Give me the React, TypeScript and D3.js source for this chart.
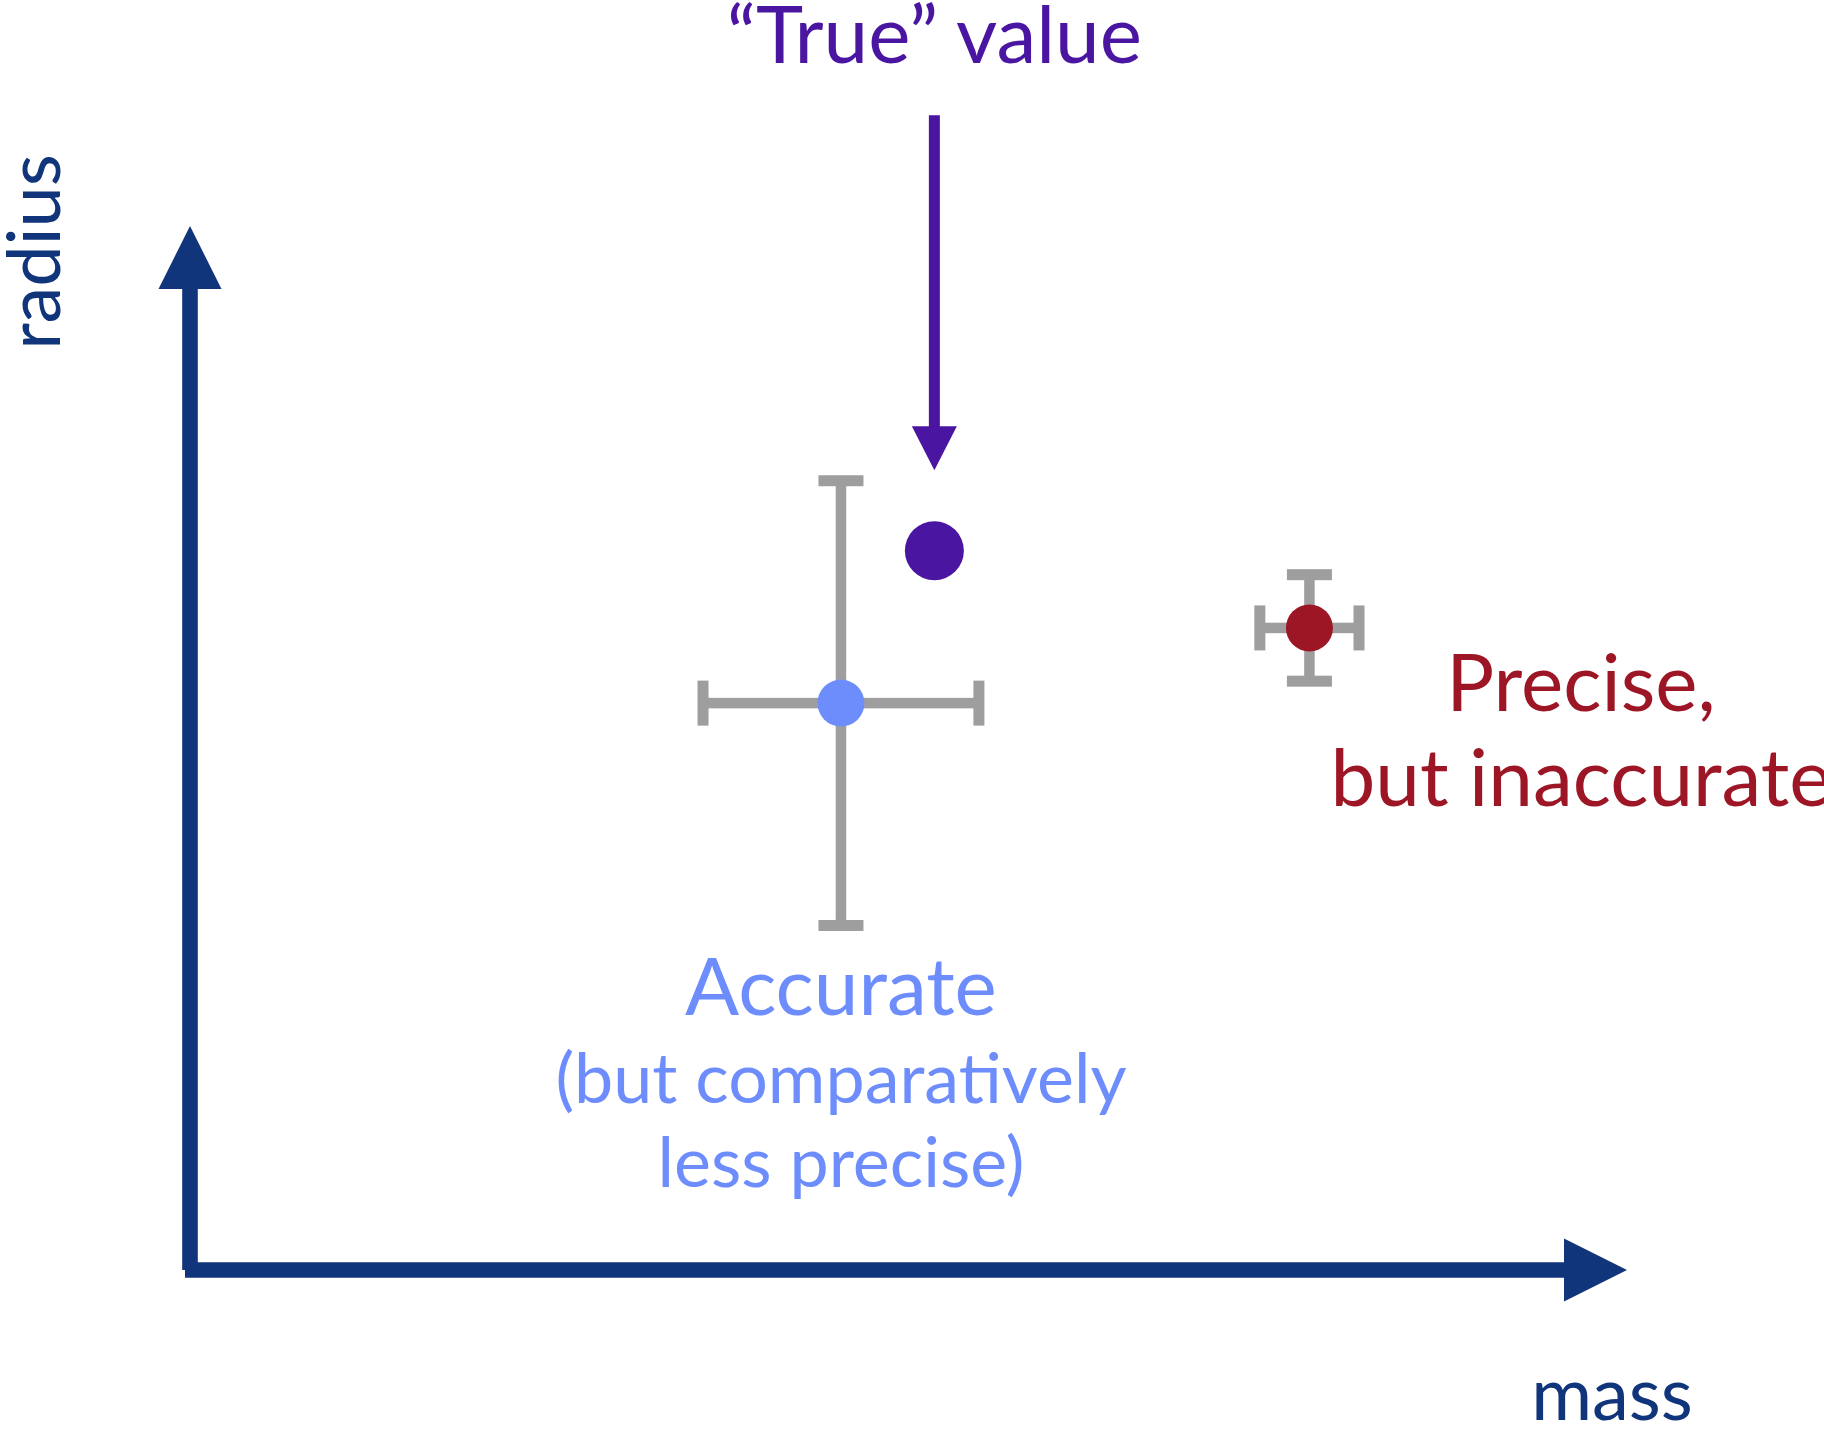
import React from "react";
import * as d3 from "d3";

// ---- data (arbitrary units on both axes) ----
const pointNames = ["true", "accurate", "precise"];
const pointX = [51.8, 45.3, 77.9];
const pointY = [68.9, 54.3, 61.5];
const pointXErr = [0, 9.6, 3.45];
const pointYErr = [0, 21.3, 5.1];
const pointColors = ["#4a15a1", "#6e8dfd", "#9d1626"];
const pointRadius = [29.5, 23.5, 23.5];

const arrowFromY = 110.6;
const arrowToY = 76.6;

const titleText = "“True” value";
const accurateLines = ["Accurate", "(but comparatively", "less precise)"];
const accurateSizes = [80, 70, 70];
const accurateBaselines = [1015, 1103, 1187];
const preciseLines = ["Precise,", "but inaccurate"];
const preciseBaselines = [711, 806];
const xLabel = "mass";
const yLabel = "radius";

const W = 1824;
const H = 1429;
const AXIS = "#10357a";
const GRAY = "#9e9e9e";
const FONT = "Lato, 'Open Sans', sans-serif";

export default function App() {
  const x = d3.scaleLinear().domain([0, 100]).range([190, 1627]);
  const y = d3.scaleLinear().domain([0, 100]).range([1270, 226]);

  const x0 = x(0);
  const y0 = y(0);
  const xEnd = x(100);
  const yEnd = y(100);
  const head = 63;
  const axisW = 15.6;

  const tx = x(pointX[0]);
  const arrowTop = y(arrowFromY);
  const arrowTip = y(arrowToY);
  const aHead = 44;
  const aHalf = 22.5;

  const cap = 45;
  const barW = 10.5;
  const capT = 11;

  return (
    <svg
      width={W}
      height={H}
      style={{ position: "absolute", left: 0, top: 0, background: "#fff" }}
    >
      {/* axes */}
      <line x1={x0} y1={y0} x2={x0} y2={yEnd + head} stroke={AXIS} strokeWidth={axisW} />
      <path
        d={`M${x0},${yEnd} L${x0 + head / 2},${yEnd + head} L${x0 - head / 2},${yEnd + head} Z`}
        fill={AXIS}
      />
      <line x1={x0 - 5} y1={y0} x2={xEnd - head} y2={y0} stroke={AXIS} strokeWidth={axisW} />
      <path
        d={`M${xEnd},${y0} L${xEnd - head},${y0 - head / 2} L${xEnd - head},${y0 + head / 2} Z`}
        fill={AXIS}
      />

      {/* axis labels */}
      <text
        transform={`translate(60,252) rotate(-90)`}
        textAnchor="middle"
        fontFamily={FONT}
        fontSize={74}
        fill={AXIS}
      >
        {yLabel}
      </text>
      <text x={1612} y={1420} textAnchor="middle" fontFamily={FONT} fontSize={74} fill={AXIS}>
        {xLabel}
      </text>

      {/* "True" arrow */}
      <line x1={tx} y1={arrowTop} x2={tx} y2={arrowTip - aHead + 1} stroke={pointColors[0]} strokeWidth={11} />
      <path
        d={`M${tx},${arrowTip} L${tx - aHalf},${arrowTip - aHead} L${tx + aHalf},${arrowTip - aHead} Z`}
        fill={pointColors[0]}
      />
      <text x={tx} y={63} textAnchor="middle" fontFamily={FONT} fontSize={80} fill={pointColors[0]}>
        {titleText}
      </text>

      {/* error bars */}
      {pointNames.map((n, i) => {
        if (!pointXErr[i] && !pointYErr[i]) return null;
        const cx = x(pointX[i]);
        const cy = y(pointY[i]);
        const xl = x(pointX[i] - pointXErr[i]);
        const xr = x(pointX[i] + pointXErr[i]);
        const yt = y(pointY[i] + pointYErr[i]);
        const yb = y(pointY[i] - pointYErr[i]);
        return (
          <g key={n} fill={GRAY} stroke="none">
            <rect x={cx - barW / 2} y={yt} width={barW} height={yb - yt} />
            <rect x={xl} y={cy - barW / 2} width={xr - xl} height={barW} />
            <rect x={cx - cap / 2} y={yt - capT / 2} width={cap} height={capT} />
            <rect x={cx - cap / 2} y={yb - capT / 2} width={cap} height={capT} />
            <rect x={xl - capT / 2} y={cy - cap / 2} width={capT} height={cap} />
            <rect x={xr - capT / 2} y={cy - cap / 2} width={capT} height={cap} />
          </g>
        );
      })}

      {/* points */}
      {pointNames.map((n, i) => (
        <circle key={n} cx={x(pointX[i])} cy={y(pointY[i])} r={pointRadius[i]} fill={pointColors[i]} />
      ))}

      {/* labels */}
      {accurateLines.map((t, i) => (
        <text
          key={t}
          x={x(pointX[1])}
          y={accurateBaselines[i]}
          textAnchor="middle"
          fontFamily={FONT}
          fontSize={accurateSizes[i]}
          fill={pointColors[1]}
        >
          {t}
        </text>
      ))}
      {preciseLines.map((t, i) => (
        <text
          key={t}
          x={1581}
          y={preciseBaselines[i]}
          textAnchor="middle"
          fontFamily={FONT}
          fontSize={80}
          fill={pointColors[2]}
        >
          {t}
        </text>
      ))}
    </svg>
  );
}
